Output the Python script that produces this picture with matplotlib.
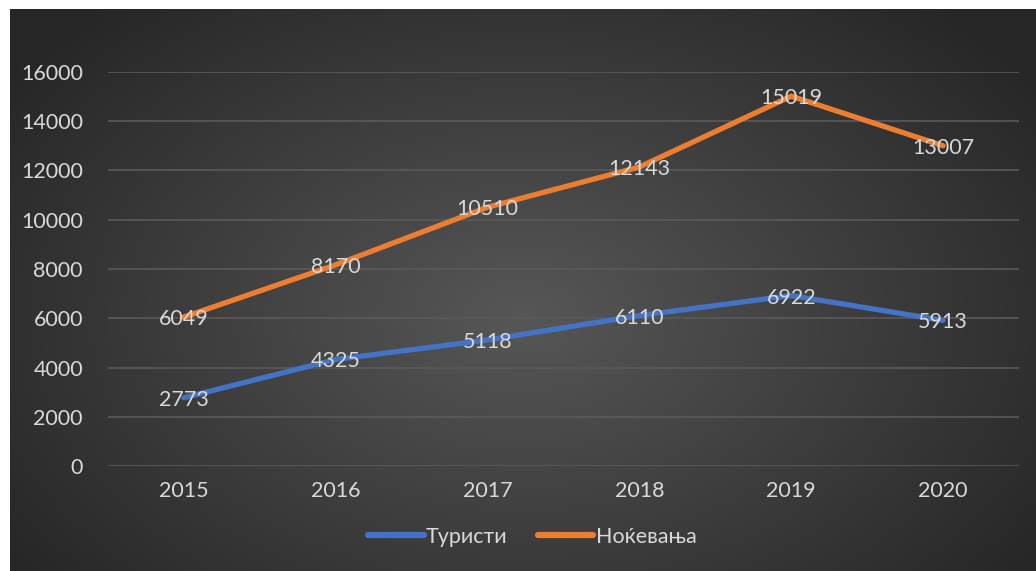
import numpy as np
import matplotlib
matplotlib.use("Agg")
import matplotlib.pyplot as plt

years = ["2015", "2016", "2017", "2018", "2019", "2020"]
turisti = [2773, 4325, 5118, 6110, 6922, 5913]
nokevanja = [6049, 8170, 10510, 12143, 15019, 13007]
yticks = [0, 2000, 4000, 6000, 8000, 10000, 12000, 14000, 16000]

plt.rcParams['font.family'] = ['Lato', 'DejaVu Sans']
txt = '#d9d9d9'
fs = 15.5

W, H = 1036, 571
fig = plt.figure(figsize=(W / 100, H / 100), dpi=100)
fig.patch.set_facecolor('white')

# dark radial gradient panel
bg = fig.add_axes([10 / W, 0, 1 - 10 / W, 1 - 9 / H])
yy, xx = np.mgrid[0:1:300j, 0:1:600j]
r = np.sqrt(((xx - 0.5) / 0.62) ** 2 + ((yy - 0.55) / 0.75) ** 2)
r = np.clip(r, 0, 1)
shade = 0.34 - 0.19 * r
img = np.dstack([shade, shade, shade])
bg.imshow(img, aspect='auto', extent=[0, 1, 0, 1], interpolation='bilinear')
bg.set_axis_off()

ax = fig.add_axes([108 / W, 1 - 466 / H, 911 / W, 394 / H])
ax.set_facecolor('none')
x = np.arange(len(years))

ax.plot(x, turisti, color='#4472c4', lw=3.8, solid_capstyle='round', label='Туристи', zorder=3)
ax.plot(x, nokevanja, color='#ed7d31', lw=3.8, solid_capstyle='round', label='Ноќевања', zorder=3)

for xi, v in zip(x, turisti):
    ax.text(xi, v, str(v), color=txt, fontsize=fs, ha='center', va='center_baseline', zorder=4)
for xi, v in zip(x, nokevanja):
    ax.text(xi, v, str(v), color=txt, fontsize=fs, ha='center', va='center_baseline', zorder=4)

ax.set_xlim(-0.5, len(years) - 0.5)
ax.set_ylim(0, 16000)
ax.set_yticks(yticks)
ax.set_yticklabels([str(t) for t in yticks])
ax.set_xticks(x)
ax.set_xticklabels(years)
ax.tick_params(colors=txt, labelsize=fs, length=0)
ax.tick_params(axis='x', pad=11)
ax.tick_params(axis='y', pad=18)
ax.grid(axis='y', color='#5a5a5a', lw=1.2)
ax.set_axisbelow(True)
for s in ax.spines.values():
    s.set_visible(False)

leg = fig.legend(loc='center', bbox_to_anchor=(532 / W, 1 - 537 / H), ncol=2, frameon=False,
                 fontsize=fs, labelcolor=txt, handlelength=2.6, handletextpad=0.1,
                 columnspacing=1.4)
for h in leg.legend_handles:
    h.set_linewidth(4.5)

fig.savefig('out.png', dpi=100, facecolor=fig.get_facecolor())
